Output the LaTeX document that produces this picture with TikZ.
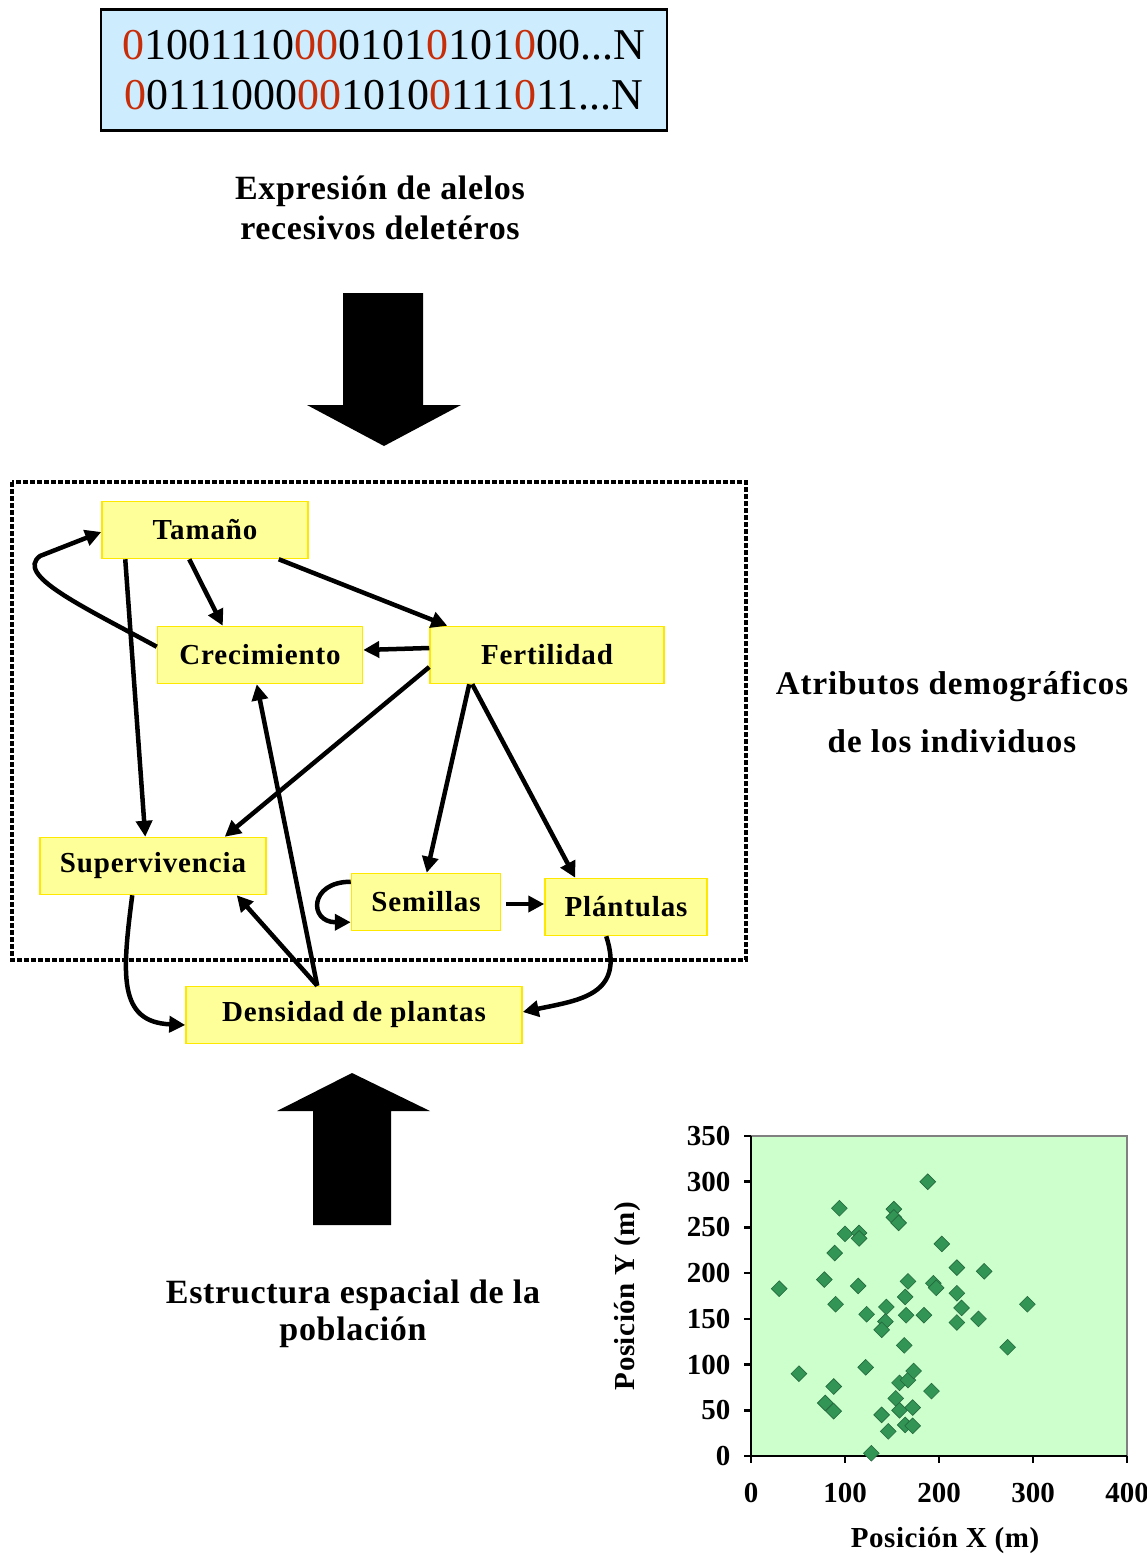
\documentclass[tikz,border=0pt]{standalone}
\usepackage{fontspec}
\setmainfont{Liberation Serif}
\usetikzlibrary{positioning,arrows.meta,shapes.geometric,calc}
\definecolor{bitclr}{RGB}{200,45,10}
\definecolor{boxclr}{RGB}{205,236,253}
\definecolor{attrfill}{RGB}{255,255,153}
\definecolor{attrline}{RGB}{255,232,0}
\definecolor{plotbg}{RGB}{204,255,204}
\definecolor{dotclr}{RGB}{50,148,85}
\newcommand{\hz}{\textcolor{bitclr}{0}}
\tikzset{
  attr/.style={rectangle,draw=attrline,line width=1.5pt,fill=attrfill,
               minimum height=57pt,inner sep=0pt,
               font=\fontsize{29}{32}\selectfont\bfseries\addfontfeature{LetterSpace=3}},
  link/.style={-{Triangle[length=16pt,width=16pt]},line width=4.5pt},
  notetext/.style={align=center,
               font=\fontsize{34}{40}\selectfont\bfseries\addfontfeature{LetterSpace=2}},
  bigarrow/.style={fill=black},
  sample/.style={diamond,fill=dotclr,draw=dotclr!70!black,line width=0.6pt,
                 inner sep=0pt,minimum size=16pt},
  ticklbl/.style={font=\fontsize{29}{30}\selectfont\bfseries},
  axlbl/.style={font=\fontsize{29}{30}\selectfont\bfseries\addfontfeature{LetterSpace=2}},
}

\begin{document}
\begin{tikzpicture}[x=1pt,y=-1pt]
\useasboundingbox (0,0) rectangle (1146,1555);
% genome
\node[draw,line width=2.5pt,fill=boxclr,minimum width=566pt,minimum height=121pt,
      align=center,font=\fontsize{44}{50}\selectfont] (bits) at (384,70)
  {\hz1001110\hz\hz0101\hz101\hz00...N\\\hz0111000\hz\hz1010\hz111\hz11...N};
\node[notetext] (expr) at (380,208) {Expresión de alelos\\recesivos deletéros};
\fill[bigarrow] (343,293) -- (423,293) -- (423,405) -- (461,405) -- (384,446)
  -- (307,405) -- (343,405) -- cycle;

% demographic attributes
\draw[line width=3.5pt,dash pattern=on 5pt off 2pt] (12,482) rectangle (746,960);
\node[attr,minimum width=206pt] (tam) at (205,530) {Tamaño};
\node[attr,minimum width=205pt] (cre) at (260,655) {Crecimiento};
\node[attr,minimum width=234pt] (fer) at (547,655) {Fertilidad};
\node[attr,minimum width=226pt] (sup) at (153,866) {Supervivencia};
\node[attr,minimum width=149pt] (sem) at (426,902) {Semillas};
\node[attr,minimum width=162pt] (pla) at (626,907) {Plántulas};
\node[attr,minimum width=336pt] (den) at (354,1015) {Densidad de plantas};
\node[notetext,font=\fontsize{33}{58}\selectfont\bfseries\addfontfeature{LetterSpace=3}]
  (attrs) at (952,712) {Atributos demográficos\\de los individuos};

\draw[link] ([yshift=-21pt]cre.north west) .. controls (80,605) and (15,575) .. (40,556)
  -- ([yshift=-2pt]tam.west);
\draw[link] ([xshift=88pt]tam.south west) -- ([xshift=66pt]cre.north west);
\draw[link] ([xshift=-30pt]tam.south east) -- ([xshift=18pt]fer.north west);
\draw[link] ([xshift=24pt]tam.south west) -- ([xshift=106pt]sup.north west);
\draw[link] ([yshift=7pt]fer.west) -- ([yshift=5pt]cre.east);
\draw[link] ([yshift=-12pt]fer.west) -- ([xshift=-42pt]sup.north east);
\draw[link] ([xshift=40pt]fer.south west) -- ([xshift=76pt]sem.north west);
\draw[link] ([xshift=43pt]fer.south west) -- ([xshift=31pt]pla.north west);
\draw[link] ([yshift=-9pt]sem.north west) .. controls +(-42pt,0) and +(-42pt,0)
  .. ([yshift=9pt]sem.south west);
\draw[link] ([xshift=5pt,yshift=-2pt]sem.east) -- ([yshift=3pt]pla.west);
\draw[link] ([xshift=132pt]den.north west) -- ([xshift=100pt]cre.south west);
\draw[link] ([xshift=132pt]den.north west) -- ([xshift=-30pt]sup.south east);
\draw[link] ([xshift=93pt]sup.south west) .. controls (122,975) and (118,1022)
  .. ([yshift=-10pt]den.west);
\draw[link] ([xshift=62pt]pla.south west) .. controls (625,995) and (580,1000)
  .. ([yshift=3pt]den.east);

% spatial structure
\fill[bigarrow] (313,1225) -- (391,1225) -- (391,1111) -- (430,1111) -- (352,1073)
  -- (277,1111) -- (313,1111) -- cycle;
\node[notetext,font=\fontsize{34}{37}\selectfont\bfseries\addfontfeature{LetterSpace=2}]
  (estr) at (353,1314) {Estructura espacial de la\\población};

% map of plants
\begin{scope}[shift={(751,1456)},x=0.94pt,y=0.9143pt]
  \fill[plotbg] (0,0) rectangle (400,350);
  \draw[gray,line width=1.5pt] (0,350) -- (400,350) -- (400,0);
  \draw[line width=2.5pt] (0,350) -- (0,0) -- (400,0);
  \foreach \v in {0,50,...,350} {
    \draw[line width=2.5pt] (0,\v) -- ++(-7pt,0);
    \node[ticklbl,anchor=east,xshift=-17pt] at (0,\v) {\v};
  }
  \foreach \v in {0,100,...,400} {
    \draw[line width=2.5pt] (\v,0) -- ++(0,-7pt);
    \node[ticklbl,yshift=-37pt] at (\v,0) {\v};
  }
  \foreach \px/\py in {30/183,51/90,78/193,79/58,88/49,88/76,90/166,89/222,
      94/271,100/243,115/244,115/238,114/186,123/155,122/97,128/3,144/163,
      143/147,139/138,139/45,146/27,152/270,152/261,157/255,154/63,158/50,
      158/80,163/121,164/174,165/154,164/34,167/191,167/83,173/93,172/53,
      172/33,184/154,188/300,192/71,194/189,197/184,203/232,219/206,219/178,
      224/162,219/146,242/150,248/202,273/119,294/166}
    \node[sample] at (\px,\py) {};
\end{scope}
\node[axlbl] (xlab) at (945,1540) {Posición X (m)};
\node[axlbl,rotate=90] (ylab) at (628,1296) {Posición Y (m)};
\end{tikzpicture}
\end{document}
